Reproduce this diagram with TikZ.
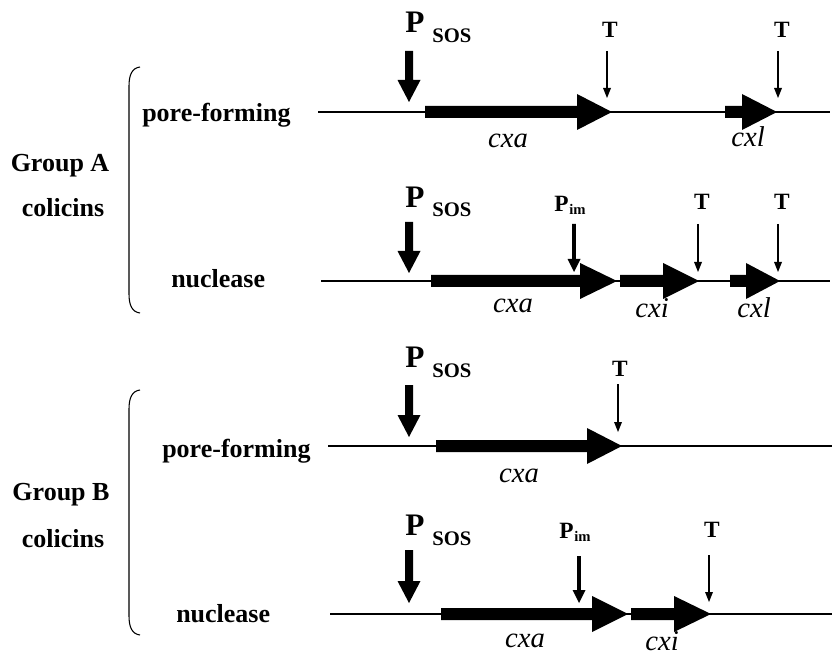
\documentclass[tikz,border=0pt]{standalone}
\usepackage{fontspec}
\setmainfont{Liberation Serif}
\begin{document}
\begin{tikzpicture}[x=0.75pt,y=-0.75pt,
  lbl/.style={inner sep=0pt,font=\fontsize{19.5}{20}\selectfont\bfseries},
  pbig/.style={inner sep=0pt,anchor=base west,font=\fontsize{23.5}{24}\selectfont\bfseries},
  psos/.style={inner sep=0pt,anchor=base west,font=\fontsize{15.5}{16}\selectfont\bfseries},
  tlbl/.style={inner sep=0pt,anchor=base,font=\fontsize{17.5}{18}\selectfont\bfseries},
  pim/.style={inner sep=0pt,anchor=base west,font=\fontsize{17.5}{18}\selectfont\bfseries},
  imsub/.style={inner sep=0pt,anchor=base west,font=\fontsize{11}{12}\selectfont\bfseries},
  gname/.style={inner sep=0pt,anchor=base,font=\fontsize{21.5}{22}\selectfont\itshape},
  dna/.style={line width=0.85pt},
  brace/.style={line width=0.8pt},
  tarrow/.style={line width=0.9pt}]
\useasboundingbox (0,0) rectangle (832,652);

\newcommand{\genearrow}[4]{\fill (#1,#4-6) -- (#2,#4-6) -- (#2,#4-18) -- (#3,#4) -- (#2,#4+18) -- (#2,#4+6) -- (#1,#4+6) -- cycle;}
\newcommand{\bigdown}[3]{\fill (#1-4,#2) -- (#1+4,#2) -- (#1+4,#3-22) -- (#1+11.5,#3-22) -- (#1,#3) -- (#1-11.5,#3-22) -- (#1-4,#3-22) -- cycle;}
\newcommand{\middown}[3]{\fill (#1-1.8,#2) -- (#1+1.8,#2) -- (#1+1.8,#3-13) -- (#1+6.5,#3-13) -- (#1,#3) -- (#1-6.5,#3-13) -- (#1-1.8,#3-13) -- cycle;}
\newcommand{\thindown}[3]{\draw[tarrow] (#1,#2) -- (#1,#3-9); \fill (#1-4,#3-10) -- (#1+4,#3-10) -- (#1,#3) -- cycle;}

% ---------- Group A ----------
\node[lbl,anchor=base] (gA) at (60,172) {Group A};
\node[lbl,anchor=base] (cA) at (63,217) {colicins};
\draw[brace] (140,67) .. controls (132,68) and (129,75) .. (129,86) -- (129,294) .. controls (129,305) and (132,312) .. (140,313);

% row 1: pore-forming
\node[lbl,anchor=base west] (pf1) at (142,122) {pore-forming};
\coordinate (l1s) at (318,112); \coordinate (l1e) at (830,112);
\draw[dna] (l1s) -- (l1e);
\node[pbig] (p1) at (405,33) {P};
\node[psos] (s1) at (432,43) {SOS};
\bigdown{409}{51}{102}
\genearrow{425}{577}{612}{112}
\node[gname] (g1a) at (508,148) {cxa};
\node[tlbl] (t1a) at (610,38) {T};
\thindown{607}{51}{98}
\genearrow{725}{742}{777}{112}
\node[gname] (g1l) at (748,147) {cxl};
\node[tlbl] (t1b) at (782,38) {T};
\thindown{778}{51}{98}

% row 2: nuclease
\node[lbl,anchor=base west] (nu2) at (171,288) {nuclease};
\coordinate (l2s) at (321,281); \coordinate (l2e) at (830,281);
\draw[dna] (l2s) -- (l2e);
\node[pbig] (p2) at (405,208) {P};
\node[psos] (s2) at (432,217) {SOS};
\bigdown{409}{222}{273}
\genearrow{431}{580}{617}{281}
\node[gname] (g2a) at (513,313) {cxa};
\node[pim] (pim2) at (554,212) {P};
\node[imsub] (im2) at (569,215) {im};
\middown{574}{224}{272}
\genearrow{620}{663}{699}{281}
\node[gname] (g2i) at (652,318) {cxi};
\node[tlbl] (t2a) at (702,210) {T};
\thindown{698}{224}{272}
\genearrow{730}{746}{780}{281}
\node[gname] (g2l) at (754,318) {cxl};
\node[tlbl] (t2b) at (782,210) {T};
\thindown{778}{224}{272}

% ---------- Group B ----------
\node[lbl,anchor=base] (gB) at (61,500) {Group B};
\node[lbl,anchor=base] (cB) at (63,547) {colicins};
\draw[brace] (140,390) .. controls (132,391) and (129,398) .. (129,409) -- (129,616) .. controls (129,627) and (132,634) .. (140,635);

% row 3: pore-forming
\node[lbl,anchor=base west] (pf3) at (162,457) {pore-forming};
\coordinate (l3s) at (328,446); \coordinate (l3e) at (832,446);
\draw[dna] (l3s) -- (l3e);
\node[pbig] (p3) at (405,368) {P};
\node[psos] (s3) at (432,378) {SOS};
\bigdown{409}{385}{437}
\genearrow{436}{587}{622}{446}
\node[gname] (g3a) at (519,482) {cxa};
\node[tlbl] (t3a) at (620,377) {T};
\thindown{618}{384}{432}

% row 4: nuclease
\node[lbl,anchor=base west] (nu4) at (176,622) {nuclease};
\coordinate (l4s) at (330,614); \coordinate (l4e) at (832,614);
\draw[dna] (l4s) -- (l4e);
\node[pbig] (p4) at (405,535) {P};
\node[psos] (s4) at (432,545) {SOS};
\bigdown{409}{550}{603}
\genearrow{441}{592}{628}{614}
\node[gname] (g4a) at (525,647) {cxa};
\node[pim] (pim4) at (559,538) {P};
\node[imsub] (im4) at (574,541) {im};
\middown{579}{556}{603}
\genearrow{631}{674}{711}{614}
\node[gname] (g4i) at (662,650) {cxi};
\node[tlbl] (t4a) at (712,537) {T};
\thindown{709}{555}{602}
\end{tikzpicture}
\end{document}
